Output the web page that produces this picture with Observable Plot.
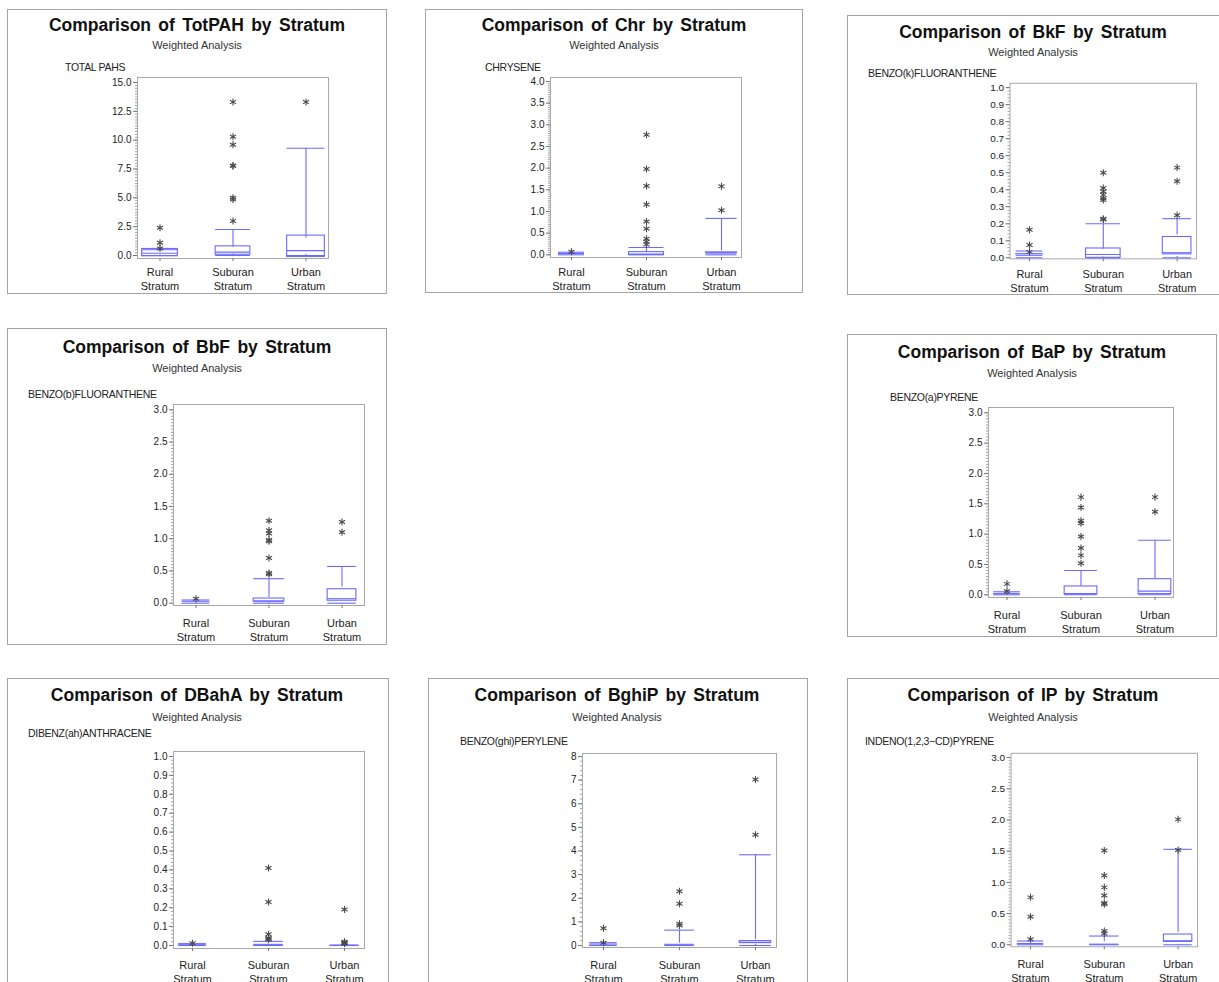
<!DOCTYPE html>
<html><head><meta charset="utf-8">
<script src="https://cdn.jsdelivr.net/npm/d3@7"></script>
<script src="https://cdn.jsdelivr.net/npm/@observablehq/plot@0.6"></script>
<style>
body{margin:0;background:#fff;font-family:"Liberation Sans",Arial,sans-serif;}
#page{position:relative;width:1219px;height:982px;overflow:hidden;background:#fff;}
.border{position:absolute;border:1.5px solid #a3a3a3;box-sizing:border-box;pointer-events:none;}
.svgwrap{position:absolute;}
.title{position:absolute;font-weight:bold;font-size:17.5px;word-spacing:2.5px;color:#111;white-space:nowrap;transform:translate(-50%,-50%);}
.sub{position:absolute;font-size:11px;color:#333;white-space:nowrap;transform:translate(-50%,-50%);}
.ylab{position:absolute;font-size:10.5px;color:#222;white-space:nowrap;transform:translateY(-50%);letter-spacing:-0.3px;}
</style>
</head><body><div id="page"></div>
<script>
// ---------------- DATA ----------------
const strata = ["Rural", "Suburan", "Urban"];
const abbrs = ["TotPAH", "Chr", "BkF", "BbF", "BaP", "DBahA", "BghiP", "IP"];
const yLabels = ["TOTAL PAHS", "CHRYSENE", "BENZO(k)FLUORANTHENE", "BENZO(b)FLUORANTHENE",
  "BENZO(a)PYRENE", "DIBENZ(ah)ANTHRACENE", "BENZO(ghi)PERYLENE", "INDENO(1,2,3\u2212CD)PYRENE"];

// each stratum: [low whisker, Q1, median, Q3, high whisker]
const totpahBox = [[0, 0.05, 0.2, 0.45, 0.5], [0, 0.14, 0.29, 0.72, 2.25], [0, 0.08, 0.42, 1.52, 9.3]];
const totpahOut = [[2.4, 1.1, 0.6], [13.3, 10.3, 9.6, 7.8, 7.75, 5.0, 4.85, 3.0], [13.3]];
const totpahTicks = [0, 2.5, 5, 7.5, 10, 12.5, 15];

const chrBox = [[0, 0.01, 0.03, 0.05, 0.06], [0, 0.005, 0.02, 0.05, 0.17], [0, 0.01, 0.04, 0.09, 0.84]];
const chrOut = [[0.07], [2.77, 1.98, 1.59, 1.16, 0.77, 0.6, 0.37, 0.3, 0.24], [1.58, 1.03]];
const chrTicks = [0, 0.5, 1, 1.5, 2, 2.5, 3, 3.5, 4];

const bkfBox = [[0, 0.003, 0.015, 0.04, 0.04], [0, 0.005, 0.02, 0.05, 0.2], [0, 0.008, 0.03, 0.135, 0.23]];
const bkfOut = [[0.165, 0.075, 0.035], [0.5, 0.41, 0.39, 0.37, 0.35, 0.34, 0.23, 0.225], [0.53, 0.45, 0.25]];
const bkfTicks = [0, 0.1, 0.2, 0.3, 0.4, 0.5, 0.6, 0.7, 0.8, 0.9, 1.0];

const bbfBox = [[0, 0.01, 0.03, 0.05, 0.05], [0, 0.01, 0.03, 0.09, 0.38], [0, 0.005, 0.07, 0.25, 0.57]];
const bbfOut = [[0.07], [1.28, 1.13, 1.08, 0.98, 0.96, 0.70, 0.47, 0.45], [1.26, 1.10]];
const bbfTicks = [0, 0.5, 1, 1.5, 2, 2.5, 3];

const bapBox = [[0, 0.005, 0.02, 0.04, 0.05], [0, 0.005, 0.02, 0.14, 0.4], [0, 0.01, 0.06, 0.26, 0.9]];
const bapOut = [[0.18, 0.06], [1.61, 1.44, 1.22, 1.18, 0.96, 0.77, 0.65, 0.52], [1.61, 1.37]];
const bapTicks = [0, 0.5, 1, 1.5, 2, 2.5, 3];

const dbahaBox = [[0, 0.001, 0.004, 0.008, 0.01], [0, 0.001, 0.006, 0.022, 0.022], [0, 0, 0.001, 0.002, 0.002]];
const dbahaOut = [[0.012], [0.41, 0.23, 0.06, 0.04, 0.035, 0.03], [0.19, 0.02, 0.015, 0.012, 0.01]];
const dbahaTicks = [0, 0.1, 0.2, 0.3, 0.4, 0.5, 0.6, 0.7, 0.8, 0.9, 1.0];

const bghipBox = [[0, 0.02, 0.06, 0.1, 0.12], [0, 0.01, 0.05, 0.1, 0.65], [0, 0.05, 0.14, 0.24, 3.84]];
const bghipOut = [[0.73, 0.12], [2.3, 1.77, 0.92, 0.85], [7.03, 4.69]];
const bghipTicks = [0, 1, 2, 3, 4, 5, 6, 7, 8];

const ipBox = [[0, 0.005, 0.02, 0.05, 0.06], [0, 0.002, 0.01, 0.05, 0.14], [0, 0.01, 0.065, 0.2, 1.53]];
const ipOut = [[0.76, 0.45, 0.09], [1.51, 1.11, 0.92, 0.79, 0.67, 0.65, 0.22, 0.18], [2.01, 1.52]];
const ipTicks = [0, 0.5, 1, 1.5, 2, 2.5, 3];

const boxes = [totpahBox, chrBox, bkfBox, bbfBox, bapBox, dbahaBox, bghipBox, ipBox];
const outliers = [totpahOut, chrOut, bkfOut, bbfOut, bapOut, dbahaOut, bghipOut, ipOut];
const ticks = [totpahTicks, chrTicks, bkfTicks, bbfTicks, bapTicks, dbahaTicks, bghipTicks, ipTicks];

// ---------------- LAYOUT (page pixels) ----------------
const layout = [
  {box:[7,9,380,285], title:[197,25], sub:45, ylab:[65,67], frame:[137,77,328,258], yPx:[255,82], centers:[160,233,308], widths:[36,35,38], xoff:14, fmt:".1f", minorDiv:10},
  {box:[425,9,378,284], title:[614,25], sub:45, ylab:[485,67], frame:[550,77,741,257], yPx:[254.3,81], centers:[570,645,721], widths:[26,35,31], xoff:15, fmt:".1f", minorDiv:10},
  {box:[847,15,373,280], title:[1033,32], sub:52, ylab:[868,73], frame:[1010,83,1197,259], yPx:[258,87.3], centers:[1030,1103,1178], widths:[27,35,29], xoff:16, fmt:".1f", minorDiv:5},
  {box:[7,328,380,317], title:[197,347], sub:368, ylab:[28,394], frame:[173,404,364,605], yPx:[602.7,409.3], centers:[197,268,345], widths:[28,31,29], xoff:18, fmt:".1f", minorDiv:10},
  {box:[847,334,370,303], title:[1032,352], sub:373, ylab:[890,397], frame:[988,407,1173,597], yPx:[594.3,412.3], centers:[1006,1080,1154], widths:[27,33,33], xoff:18, fmt:".1f", minorDiv:10},
  {box:[7,678,382,330], title:[197,695], sub:717, ylab:[28,733], frame:[173,751,364,948], yPx:[945,756], centers:[192,268,345], widths:[28,30,29], xoff:17, fmt:".1f", minorDiv:5},
  {box:[428,678,380,330], title:[617,695], sub:717, ylab:[460,741], frame:[582,753,776,947], yPx:[945,756], centers:[603,680,756], widths:[28,30,32], xoff:18, fmt:"d", minorDiv:5},
  {box:[847,678,373,330], title:[1033,695], sub:717, ylab:[865,741], frame:[1011,753,1198,947], yPx:[945,757.3], centers:[1030,1105,1179], widths:[27,30,29], xoff:18, fmt:".1f", minorDiv:10}
];

const BLUE = "#6a6aff";
const page = document.getElementById("page");

function addDiv(cls, text, x, y) {
  const d = document.createElement("div");
  d.className = cls; d.textContent = text;
  d.style.left = x + "px"; d.style.top = y + "px";
  page.appendChild(d);
  return d;
}

layout.forEach((L, k) => {
  const [bx, by, bw, bh] = L.box;
  const [fl, ft, fr, fb] = L.frame;
  const stats = boxes[k], outs = outliers[k], tk = ticks[k];
  const rows = strata.map((s, i) => ({stratum: s, lo: stats[i][0], q1: stats[i][1], med: stats[i][2], q3: stats[i][3], hi: stats[i][4]}));
  const pts = strata.flatMap((s, i) => outs[i].map(v => ({stratum: s, value: v})));
  const ymax = tk[tk.length - 1];
  const majorStep = tk[1] - tk[0];
  const minor = d3.range(0, ymax + majorStep / 1000, majorStep / L.minorDiv);

  // band scale geometry
  const W = fr - fl;
  const s = (L.centers[2] - L.centers[0]) / 2;
  const pi = 0.55;
  const po = Math.max(0, (W / s - 3 + pi) / 2);
  const bandW = (W / (3 - pi + 2 * po)) * (1 - pi);

  const marks = [
    Plot.frame({stroke: "#a8a8a8"}),
    Plot.axisY({ticks: minor, tickSize: 2, text: null, stroke: "#8a8a8a", strokeWidth: 0.8}),
    Plot.axisY({ticks: tk, tickSize: 4, tickPadding: 2, fontSize: 10, fill: "#222", stroke: "#777", tickFormat: d3.format(L.fmt), label: null}),
    Plot.axisX({tickSize: 3, tickPadding: L.xoff - 10, fontSize: 11, lineHeight: 1.3, fill: "#222", stroke: "#777",
      tickFormat: d => d + "\nStratum", label: null})
  ];
  strata.forEach((st, i) => {
    const r = rows.filter(d => d.stratum === st);
    const inset = (bandW - L.widths[i]) / 2;
    marks.push(
      Plot.ruleX(r, {x: "stratum", y1: "q3", y2: "hi", stroke: BLUE, strokeWidth: 1.1}),
      Plot.ruleX(r, {x: "stratum", y1: "lo", y2: "q1", stroke: BLUE, strokeWidth: 1.1}),
      Plot.barY(r, {x: "stratum", y1: "q1", y2: "q3", fill: "none", stroke: BLUE, strokeWidth: 1.1, inset}),
      Plot.tickY(r, {x: "stratum", y: "med", stroke: BLUE, strokeWidth: 1.1, inset}),
      Plot.tickY(r, {x: "stratum", y: "hi", stroke: BLUE, strokeWidth: 1.1, inset}),
      Plot.tickY(r, {x: "stratum", y: "lo", stroke: BLUE, strokeWidth: 1.1, inset})
    );
  });
  marks.push(Plot.dot(pts, {x: "stratum", y: "value", symbol: "asterisk", r: 3.3, stroke: "#4a4a4a", strokeWidth: 1.1}));

  const chart = Plot.plot({
    width: bw, height: bh,
    marginLeft: fl - bx, marginTop: ft - by, marginRight: bx + bw - fr, marginBottom: by + bh - fb,
    style: {fontFamily: "'Liberation Sans', Arial, sans-serif", background: "transparent", overflow: "visible"},
    x: {type: "band", domain: strata, paddingInner: pi, paddingOuter: po, label: null},
    y: {domain: [0, ymax], insetTop: L.yPx[1] - ft, insetBottom: fb - L.yPx[0], label: null},
    marks
  });
  const wrap = document.createElement("div");
  wrap.className = "svgwrap";
  wrap.style.left = bx + "px"; wrap.style.top = by + "px";
  wrap.appendChild(chart);
  page.appendChild(wrap);

  const b = addDiv("border", "", bx, by);
  b.style.width = bw + "px"; b.style.height = bh + "px";
  addDiv("title", `Comparison of ${abbrs[k]} by Stratum`, L.title[0], L.title[1]);
  addDiv("sub", "Weighted Analysis", L.title[0], L.sub);
  addDiv("ylab", yLabels[k], L.ylab[0], L.ylab[1]);
});
</script>
</body></html>
